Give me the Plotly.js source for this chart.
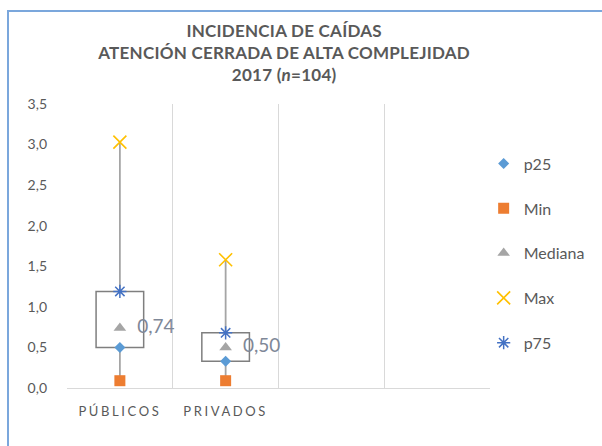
<!DOCTYPE html>
<html>
<head>
<meta charset="utf-8">
<script src="https://cdn.plot.ly/plotly-3.0.1.min.js"></script>
<style>
  html, body { margin: 0; padding: 0; background: #ffffff; }
  #wrap { position: relative; width: 602px; height: 446px; overflow: hidden; }
  #chart { position: absolute; left: 0; top: 0; width: 602px; height: 446px; }
  #frame { position: absolute; left: 7px; top: 10px; width: 640px; height: 480px;
           border-top: 2px solid #7ba7dc; border-left: 2px solid #7ba7dc; pointer-events: none; }
  .xtick text { letter-spacing: 2.6px; }
  .gtitle { letter-spacing: 0.25px; }
</style>
</head>
<body>
<div id="wrap">
  <div id="chart"></div>
  <div id="frame"></div>
</div>
<script>
// ---- data ----
var categories = ["PÚBLICOS", "PRIVADOS"];
var emptySlots = [" ", "  "];
var p25Values = [0.50, 0.33];
var minValues = [0.09, 0.09];
var medianValues = [0.74, 0.50];
var maxValues = [3.03, 1.58];
var p75Values = [1.19, 0.68];
var yTickValues = [0, 0.5, 1, 1.5, 2, 2.5, 3, 3.5];

var fontFamily = "Lato, 'Open Sans', sans-serif";
var textGray = "#595959";

// whisker segments (min -> p25, p75 -> max)
var wx = [], wy = [];
categories.forEach(function (c, i) {
  wx.push(c, c, null, c, c, null);
  wy.push(minValues[i], p25Values[i], null, p75Values[i], maxValues[i], null);
});

var boxHeights = categories.map(function (c, i) { return p75Values[i] - p25Values[i]; });
var medianLabels = medianValues.map(function (v) { return v.toFixed(2).replace('.', ','); });

var data = [
  { type: 'bar', x: categories, y: boxHeights, base: p25Values, width: 0.45,
    marker: { color: '#ffffff', line: { color: '#7f7f7f', width: 1.5 } },
    showlegend: false, hoverinfo: 'skip' },
  { type: 'scatter', mode: 'lines', x: wx, y: wy,
    line: { color: '#a5a5a5', width: 1.8 }, showlegend: false, hoverinfo: 'skip' },
  { type: 'scatter', mode: 'markers', name: 'p25', legendgroup: 'g1', x: categories, y: p25Values,
    marker: { symbol: 'diamond', size: 8.5, color: '#5b9bd5' } },
  { type: 'scatter', mode: 'markers', name: 'Min', legendgroup: 'g2', x: categories, y: minValues,
    marker: { symbol: 'square', size: 11, color: '#ed7d31' } },
  { type: 'scatter', mode: 'markers', name: 'Mediana', legendgroup: 'g3', x: categories, y: medianValues,
    marker: { symbol: 'triangle-up', size: 11, color: '#a5a5a5' } },
  { type: 'scatter', mode: 'markers', name: 'Max', legendgroup: 'g4', x: categories, y: maxValues,
    marker: { symbol: 'x-thin-open', size: 13, color: '#ffc000', line: { color: '#ffc000', width: 1.6 } } },
  { type: 'scatter', mode: 'markers', name: 'p75', legendgroup: 'g5', x: categories, y: p75Values,
    marker: { symbol: 'asterisk-open', size: 11, color: '#4472c4', line: { color: '#4472c4', width: 1.5 } } },
  { type: 'scatter', mode: 'markers+text', x: categories, y: medianValues, text: medianLabels,
    marker: { size: 26, opacity: 0 },
    textposition: 'middle right', textfont: { family: fontFamily, size: 19, color: '#7f8898' },
    showlegend: false, hoverinfo: 'skip' }
];

var layout = {
  width: 602, height: 446,
  margin: { l: 67, r: 112, t: 104, b: 58 },
  paper_bgcolor: '#ffffff', plot_bgcolor: '#ffffff',
  separators: ',.',
  font: { family: fontFamily, color: textGray, size: 14 },
  title: {
    text: 'INCIDENCIA DE CAÍDAS<br>ATENCIÓN CERRADA DE ALTA COMPLEJIDAD<br>2017 (<i>n</i>=104)',
    font: { family: fontFamily, size: 17, color: textGray, weight: 'bold' },
    xref: 'container', x: 0.472, xanchor: 'center',
    yref: 'container', y: 0.917, yanchor: 'top'
  },
  xaxis: {
    type: 'category',
    categoryorder: 'array', categoryarray: categories.concat(emptySlots),
    range: [-0.5, 3.5],
    tickson: 'boundaries', ticks: '',
    showgrid: true, gridcolor: '#d9d9d9', gridwidth: 1,
    showline: true, linecolor: '#d9d9d9', linewidth: 1,
    ticklabelstandoff: 11,
    tickfont: { family: fontFamily, size: 13, color: textGray },
    fixedrange: true
  },
  yaxis: {
    range: [0, 3.5], tickmode: 'array', tickvals: yTickValues, tickformat: '.1f',
    showgrid: false, zeroline: false, showline: false, ticks: '',
    ticklabelstandoff: 19,
    tickfont: { family: fontFamily, size: 14, color: textGray },
    fixedrange: true
  },
  legend: {
    x: 0.985, xanchor: 'left', y: 0.85, yanchor: 'top',
    font: { family: fontFamily, size: 16, color: textGray },
    tracegroupgap: 21, traceorder: 'grouped',
    bgcolor: 'rgba(0,0,0,0)'
  },
  showlegend: true
};

Plotly.newPlot('chart', data, layout, { displayModeBar: false, staticPlot: true });
</script>
</body>
</html>
